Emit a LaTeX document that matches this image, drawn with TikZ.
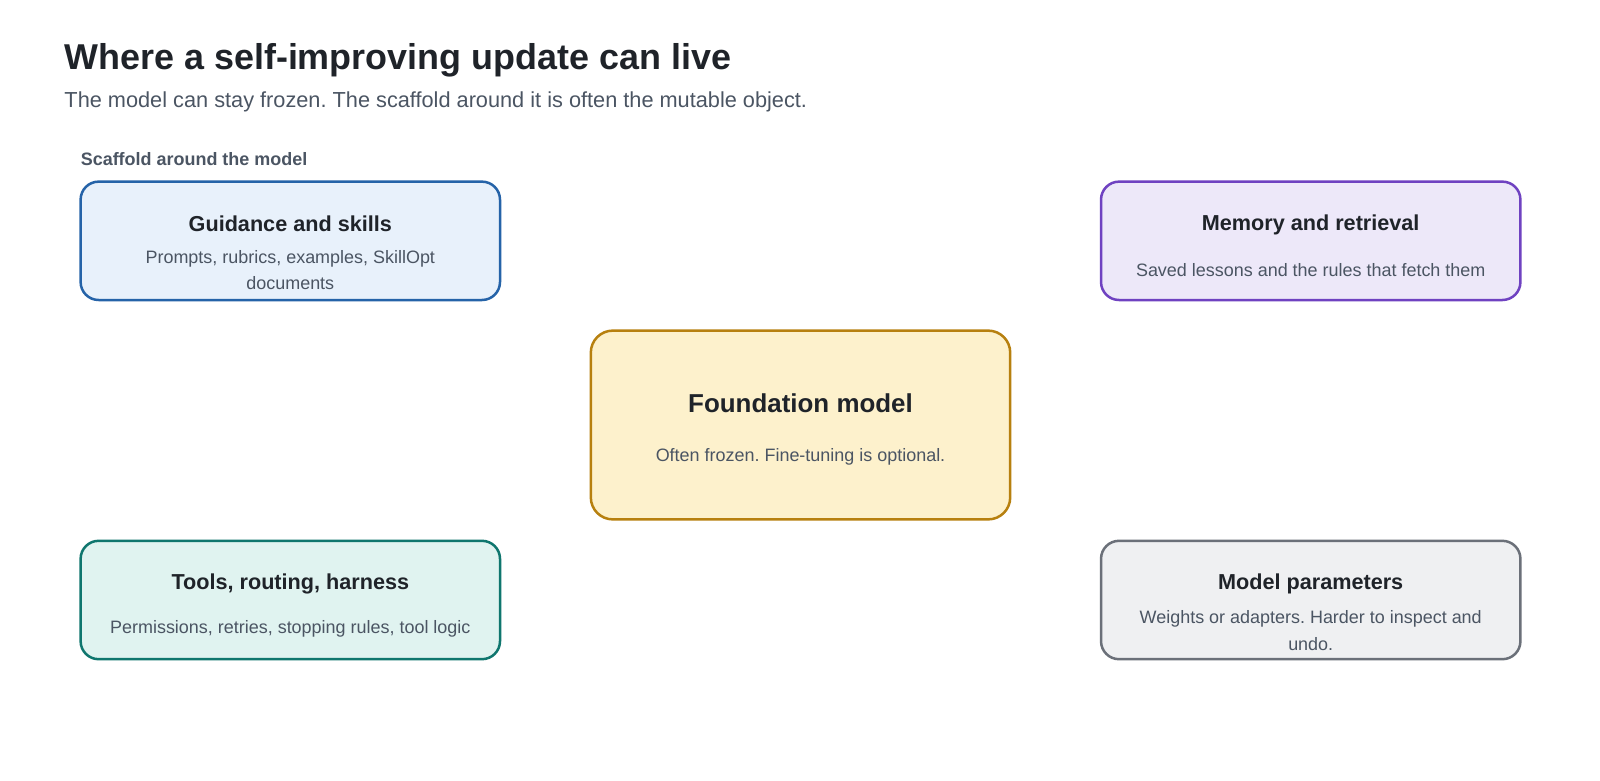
\documentclass[tikz,border=0pt]{standalone}
\usepackage{fontspec}
\setmainfont{Liberation Sans}
\frenchspacing
\definecolor{ink}{HTML}{1F2329}
\definecolor{sub}{HTML}{4B5563}
\definecolor{blueB}{HTML}{2563A8}
\definecolor{blueF}{HTML}{E8F1FB}
\definecolor{purB}{HTML}{6F42C1}
\definecolor{purF}{HTML}{EDE8F9}
\definecolor{goldB}{HTML}{B7800F}
\definecolor{goldF}{HTML}{FDF1CC}
\definecolor{tealB}{HTML}{0F766E}
\definecolor{tealF}{HTML}{E0F3F0}
\definecolor{grayB}{HTML}{6B7079}
\definecolor{grayF}{HTML}{EFF0F2}
\tikzset{
  card/.style={draw, line width=2.5pt, rounded corners=18pt, minimum width=411pt, minimum height=116pt, inner sep=0pt},
  cardtitle/.style={text=ink, inner sep=0pt, font=\fontsize{21.2}{25}\selectfont\bfseries},
  carddesc/.style={text=sub, inner sep=0pt, align=center, font=\fontsize{17.6}{26}\selectfont},
}
\begin{document}
\begin{tikzpicture}[x=1pt,y=-1pt,scale=1.0204,every node/.append style={transform shape}]
\useasboundingbox[fill=white] (0,0) rectangle (1568,764.4);
\node[anchor=west, text=ink, inner sep=0pt, font=\fontsize{35.2}{40}\selectfont\bfseries] (title) at (63,59) {Where a self-improving update can live};
\node[anchor=west, text=sub, inner sep=0pt, font=\fontsize{21.3}{25}\selectfont] (subtitle) at (63,99.5) {The model can stay frozen. The scaffold around it is often the mutable object.};
\node[anchor=west, text=sub, inner sep=0pt, font=\fontsize{17.6}{20}\selectfont\bfseries] (scaf) at (79,156) {Scaffold around the model};

\node[card, draw=blueB, fill=blueF] (g) at (284.5,236) {};
\node[cardtitle] (gt) at (284.5,219.5) {Guidance and skills};
\node[carddesc] (gd) at (284.5,264.5) {Prompts, rubrics, examples, SkillOpt\\documents};

\node[card, draw=purB, fill=purF] (m) at (1284.5,236) {};
\node[cardtitle] (mt) at (1284.5,220) {Memory and retrieval};
\node[carddesc] (md) at (1284.5,265) {Saved lessons and the rules that fetch them};

\node[card, draw=goldB, fill=goldF, minimum height=185pt, rounded corners=22pt] (f) at (784.5,416.5) {};
\node[cardtitle, font=\fontsize{25.4}{30}\selectfont\bfseries] (ft) at (784.5,395.5) {Foundation model};
\node[carddesc] (fd) at (784.5,447.5) {Often frozen. Fine-tuning is optional.};

\node[card, draw=tealB, fill=tealF] (t) at (284.5,588) {};
\node[cardtitle] (tt) at (284.5,572.5) {Tools, routing, harness};
\node[carddesc] (td) at (284.5,616) {Permissions, retries, stopping rules, tool logic};

\node[card, draw=grayB, fill=grayF] (p) at (1284.5,588) {};
\node[cardtitle] (pt) at (1284.5,572.5) {Model parameters};
\node[carddesc] (pd) at (1284.5,618) {Weights or adapters. Harder to inspect and\\undo.};
\end{tikzpicture}
\end{document}
